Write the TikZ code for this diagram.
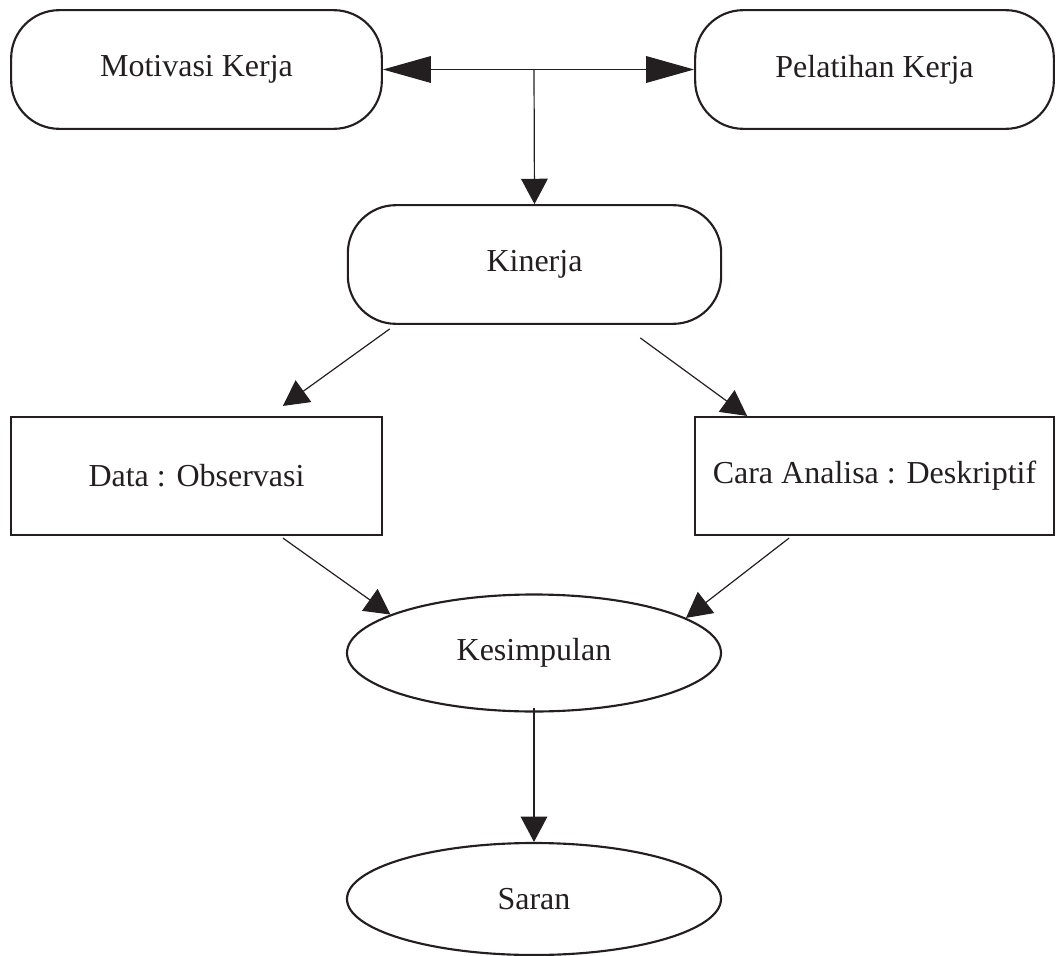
\documentclass[tikz,border=0pt]{standalone}
\usepackage{fontspec}
\setmainfont{Liberation Serif}
\usetikzlibrary{arrows.meta,shapes.geometric}
\definecolor{ink}{HTML}{231F20}
\begin{document}
\begin{tikzpicture}[x=0.75pt,y=-0.75pt,
  box/.style={draw=ink,line width=1.6pt,inner sep=0pt,font=\fontsize{24}{28}\selectfont,text=ink},
  rbox/.style={box,rectangle,rounded corners=36pt,minimum height=89pt},
  sbox/.style={box,rectangle,minimum height=88.5pt},
  ebox/.style={box,ellipse},
  conn/.style={draw=ink,line width=0.9pt,-{Triangle[length=19pt,width=20pt]}},
  bigconn/.style={draw=ink,line width=0.9pt,{Triangle[length=36pt,width=20pt]}-{Triangle[length=36pt,width=20pt]}}]
\useasboundingbox (0,0) rectangle (1057,956);

\node[rbox,minimum width=278pt] (mot) at (196.5,69.5) {Motivasi Kerja};
\node[rbox,minimum width=269pt] (pel) at (874.5,69.5) {Pelatihan Kerja};
\node[rbox,minimum width=280pt] (kin) at (534.5,264.5) {Kinerja};
\node[sbox,minimum width=278pt] (dat) at (196.5,476) {Data : Observasi};
\node[sbox,minimum width=269pt] (car) at (874.5,476) {Cara Analisa : Deskriptif};
\node[ebox,minimum width=280.5pt,minimum height=87.75pt] (kes) at (534,653) {Kesimpulan};
\node[ebox,minimum width=280.5pt,minimum height=84pt] (sar) at (534,899) {Saran};

\coordinate (jn) at (534,70);
\draw[bigconn] (mot.east) -- (pel.west);
\draw[conn] (jn) -- (kin.north);
\draw[conn] ([shift={(43,4)}]kin.south west) -- ([shift={(-100,-10)}]dat.north east);
\draw[conn] ([shift={(-82,13)}]kin.south east) -- ([shift={(53,0)}]car.north west);
\draw[conn] ([shift={(-100,2)}]dat.south east) -- (kes.165.6);
\draw[conn] ([shift={(95,2)}]car.south west) -- (kes.13.7);
\draw[conn] ([shift={(0,-5)}]kes.south) -- (sar.north);
\end{tikzpicture}
\end{document}
